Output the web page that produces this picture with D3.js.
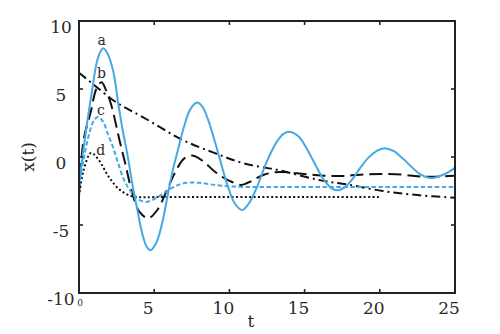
<!DOCTYPE html>
<html>
<head>
<meta charset="utf-8">
<script src="https://cdn.jsdelivr.net/npm/d3@7"></script>
<style>
  html, body { margin: 0; padding: 0; background: #fff; }
  svg text { font-family: "DejaVu Serif", "Liberation Serif", serif; fill: #2a2a2a; }
</style>
</head>
<body>
<svg id="chart" width="500" height="334"></svg>
<script>
// Response x(t) of four trajectories (a–d) plus a slowly decaying reference curve.
const seriesA = [[0,-2.0],[0.25,0.2],[0.55,2.6],[0.9,5.1],[1.15,6.8],[1.4,7.7],[1.62,8.0],[1.9,7.6],
  [2.3,6.2],[2.6,4.0],[2.9,2.0],[3.2,0.3],[3.55,-2.0],[3.9,-4.0],[4.2,-5.6],[4.5,-6.6],[4.75,-6.85],
  [5.1,-6.4],[5.5,-5.0],[5.9,-2.8],[6.25,-0.9],[6.6,0.6],[7.0,2.3],[7.4,3.5],[7.85,4.0],[8.2,3.7],
  [8.6,2.7],[9.2,0.5],[9.85,-2.0],[10.35,-3.4],[10.85,-3.9],[11.3,-3.4],[11.8,-2.3],[12.5,-0.3],
  [13.2,1.2],[13.6,1.7],[14.0,1.85],[14.6,1.5],[15.2,0.5],[15.8,-0.75],[16.3,-1.7],[16.8,-2.3],
  [17.25,-2.45],[17.7,-2.2],[18.2,-1.6],[18.7,-0.8],[19.2,-0.1],[19.8,0.45],[20.3,0.65],[20.9,0.45],
  [21.5,-0.08],[22.1,-0.72],[22.7,-1.28],[23.4,-1.55],[24.0,-1.4],[24.6,-1.1],[25,-0.78]];

const seriesB = [[0,-2.8],[0.3,1.2],[0.8,3.4],[1.15,5.0],[1.5,5.5],[1.8,4.9],[2.15,3.8],[2.7,1.2],
  [3.1,-0.6],[3.55,-2.7],[4.0,-4.0],[4.6,-4.5],[5.2,-3.9],[5.9,-2.3],[6.5,-0.9],[7.0,-0.1],[7.6,0.1],
  [8.3,-0.35],[8.9,-0.95],[9.5,-1.45],[10.1,-1.8],[10.8,-2.05],[11.5,-1.75],[12.3,-1.3],[13.3,-1.1],
  [14.5,-1.2],[15.5,-1.3],[16.5,-1.38],[17.5,-1.4],[18.7,-1.3],[20,-1.25],[21.5,-1.3],[22.5,-1.42],
  [23.5,-1.45],[24.3,-1.42],[25,-1.38]];

const seriesC = [[0,-2.2],[0.3,-0.2],[0.7,1.8],[1.0,2.7],[1.25,2.95],[1.6,2.6],[1.9,1.75],[2.3,0.6],
  [2.6,-0.45],[3.0,-1.7],[3.3,-2.3],[3.7,-2.9],[4.0,-3.15],[4.4,-3.3],[5.0,-3.1],[5.7,-2.6],
  [6.4,-2.15],[7.1,-1.9],[8.0,-1.9],[9.0,-2.05],[10,-2.15],[11,-2.2],[13,-2.2],[16,-2.2],[20,-2.2],[25,-2.2]];

const seriesD = [[0,-2.9],[0.3,-1.0],[0.8,0.3],[1.3,-0.2],[2.0,-1.5],[2.7,-2.4],[3.4,-2.85],
  [4.0,-2.95],[5,-2.95],[8,-2.95],[12,-2.95],[16,-2.95],[20,-2.95]];

const seriesE = [[0,6.2],[1,5.3],[2.5,4.0],[4.3,2.9],[6.9,1.25],[9,0.3],[10.9,-0.45],[13.4,-1.0],
  [16,-1.7],[18,-2.05],[20.2,-2.5],[22.5,-2.8],[25,-3.0]];

const xTicks = [5, 10, 15, 20, 25];
const yTicks = [10, 5, 0, -5, -10];
const curveLabels = [
  { text: "a", t: 1.5, v: 8.25 },
  { text: "b", t: 1.5, v: 5.8 },
  { text: "c", t: 1.45, v: 3.1 },
  { text: "d", t: 1.45, v: 0.15 }
];

const blue = "#44a9e3", black = "#111";

const svg = d3.select("#chart");
const x = d3.scaleLinear().domain([0, 25]).range([79, 455]);
const y = d3.scaleLinear().domain([-10, 10]).range([293, 21]);

svg.append("defs").append("clipPath").attr("id", "plot")
  .append("rect").attr("x", 79).attr("y", 21).attr("width", 376).attr("height", 272);

const line = d3.line().x(d => x(d[0])).y(d => y(d[1])).curve(d3.curveCatmullRom.alpha(0.5));

const curves = [
  { data: seriesE, color: black, dash: "9,4,2,4" },
  { data: seriesB, color: black, dash: "13,6" },
  { data: seriesD, color: black, dash: "2,2.4" },
  { data: seriesC, color: blue, dash: "4.5,2.5" },
  { data: seriesA, color: blue, dash: null }
];

const g = svg.append("g").attr("clip-path", "url(#plot)");
curves.forEach(c => {
  g.append("path")
    .attr("d", line(c.data))
    .attr("fill", "none")
    .attr("stroke", c.color)
    .attr("stroke-width", 2)
    .attr("stroke-dasharray", c.dash);
});

// Frame with inward ticks on all four sides
const tick = 4;
const axisG = svg.append("g").attr("stroke", "#222").attr("stroke-width", 1.6);
xTicks.filter(t => t < 25).forEach(t => {
  axisG.append("line").attr("x1", x(t)).attr("x2", x(t)).attr("y1", y(10)).attr("y2", y(10) + tick);
  axisG.append("line").attr("x1", x(t)).attr("x2", x(t)).attr("y1", y(-10)).attr("y2", y(-10) - tick);
});
yTicks.filter(v => v > -10 && v < 10).forEach(v => {
  axisG.append("line").attr("x1", x(0)).attr("x2", x(0) + tick).attr("y1", y(v)).attr("y2", y(v));
  axisG.append("line").attr("x1", x(25)).attr("x2", x(25) - tick).attr("y1", y(v)).attr("y2", y(v));
});
svg.append("rect")
  .attr("x", x(0)).attr("y", y(10))
  .attr("width", x(25) - x(0)).attr("height", y(-10) - y(10))
  .attr("fill", "none").attr("stroke", "#222").attr("stroke-width", 2);

// Tick labels
svg.selectAll(".ylab").data(yTicks).enter().append("text")
  .attr("x", 61).attr("y", d => y(d) + 12)
  .attr("text-anchor", "middle").attr("font-size", 17)
  .text(d => d);

svg.selectAll(".xlab").data(xTicks).enter().append("text")
  .attr("x", d => x(d) - 6).attr("y", 314)
  .attr("text-anchor", "middle").attr("font-size", 17)
  .text(d => d);

svg.append("text").attr("x", x(0) + 1).attr("y", 306)
  .attr("text-anchor", "middle").attr("font-size", 9).text("0");

// Axis titles
svg.append("text").attr("x", 251).attr("y", 327)
  .attr("text-anchor", "middle").attr("font-size", 17).text("t");
svg.append("text").attr("transform", "translate(34,157) rotate(-90)")
  .attr("text-anchor", "middle").attr("font-size", 17).text("x(t)");

// Curve letters
svg.selectAll(".clab").data(curveLabels).enter().append("text")
  .attr("x", d => x(d.t)).attr("y", d => y(d.v))
  .attr("text-anchor", "middle").attr("font-size", 14)
  .text(d => d.text);
</script>
</body>
</html>
